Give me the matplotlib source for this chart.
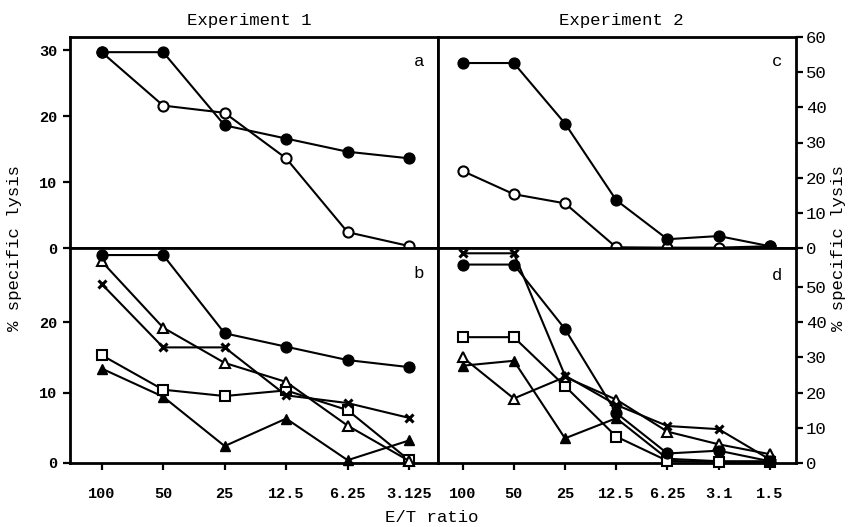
import matplotlib.pyplot as plt
import numpy as np

plt.rcParams['font.family'] = ['Liberation Mono', 'DejaVu Sans Mono']

# E/T ratios
et1 = ['100', '50', '25', '12.5', '6.25', '3.125']
et2 = ['100', '50', '25', '12.5', '6.25', '3.1', '1.5']

# panel a (experiment 1)
a_filled = [29.7, 29.7, 18.6, 16.6, 14.6, 13.6]
a_open = [29.7, 21.6, 20.5, 13.6, 2.4, 0.3]

# panel b (experiment 1)
b_filled_circle = [29.5, 29.5, 18.4, 16.5, 14.6, 13.6]
b_open_tri = [28.6, 19.2, 14.2, 11.5, 5.3, 0.3]
b_cross = [25.4, 16.4, 16.4, 9.6, 8.5, 6.4]
b_open_sq = [15.3, 10.4, 9.5, 10.3, 7.5, 0.4]
b_filled_tri = [13.4, 9.4, 2.4, 6.3, 0.4, 3.2]

# panel c (experiment 2)
c_filled = [52.6, 52.6, 35.4, 13.6, 2.5, 3.4, 0.5]
c_open = [21.9, 15.3, 12.7, 0.2, 0.1, 0.1, 0.5]

# panel d (experiment 2)
d_cross = [59.5, 59.5, 24.8, 16.5, 10.5, 9.6, 1.0]
d_filled_circle = [56.3, 56.3, 38.0, 14.2, 2.7, 3.5, 0.5]
d_open_sq = [35.7, 35.7, 21.8, 7.5, 0.6, 0.3, 0.3]
d_open_tri = [30.0, 18.3, 24.4, 18.0, 8.9, 5.3, 2.5]
d_filled_tri = [27.6, 29.0, 7.0, 12.7, 1.2, 0.5, 0.5]

fig = plt.figure(figsize=(8.51, 5.27), dpi=100)
x0, xm, x1 = 70 / 851, 438 / 851, 796 / 851
yb, ym, yt = 1 - 463 / 527, 1 - 248 / 527, 1 - 37 / 527
ax_a = fig.add_axes([x0, ym, xm - x0, yt - ym])
ax_b = fig.add_axes([x0, yb, xm - x0, ym - yb])
ax_c = fig.add_axes([xm, ym, x1 - xm, yt - ym])
ax_d = fig.add_axes([xm, yb, x1 - xm, ym - yb])

lw = 1.5
ms = 7.8
style = dict(color='black', lw=lw, clip_on=False, zorder=3)
filled_c = dict(marker='o', mfc='black', mec='black', ms=ms)
open_c = dict(marker='o', mfc='white', mec='black', mew=1.5, ms=ms - 0.5)
open_s = dict(marker='s', mfc='white', mec='black', mew=1.5, ms=ms - 0.5)
open_t = dict(marker='^', mfc='white', mec='black', mew=1.5, ms=ms)
filled_t = dict(marker='^', mfc='black', mec='black', ms=ms)
cross = dict(marker='x', mec='black', mew=2.2, ms=ms - 1.8)

xi1 = np.arange(len(et1))
xi2 = np.arange(len(et2))

ax_a.plot(xi1, a_open, **style, **open_c)
ax_a.plot(xi1, a_filled, **style, **filled_c)

ax_b.plot(xi1, b_filled_tri, **style, **filled_t)
ax_b.plot(xi1, b_open_sq, **style, **open_s)
ax_b.plot(xi1, b_cross, **style, **cross)
ax_b.plot(xi1, b_open_tri, **style, **open_t)
ax_b.plot(xi1, b_filled_circle, **style, **filled_c)

ax_c.plot(xi2, c_open, **style, **open_c)
ax_c.plot(xi2, c_filled, **style, **filled_c)

ax_d.plot(xi2, d_filled_tri, **style, **filled_t)
ax_d.plot(xi2, d_open_sq, **style, **open_s)
ax_d.plot(xi2, d_open_tri, **style, **open_t)
ax_d.plot(xi2, d_cross, **style, **cross)
ax_d.plot(xi2, d_filled_circle, **style, **filled_c)

for ax in (ax_a, ax_b):
    ax.set_xlim(-0.515, 5.47)
for ax in (ax_c, ax_d):
    ax.set_xlim(-0.48, 6.51)
ax_a.set_ylim(0, 32)
ax_b.set_ylim(0, 30.5)
ax_c.set_ylim(0, 60)
ax_d.set_ylim(0, 61)

for ax in (ax_a, ax_b, ax_c, ax_d):
    for sp in ax.spines.values():
        sp.set_linewidth(2.0)
    ax.tick_params(direction='out', length=5, width=1.6, pad=4)

tick_font = dict(fontsize=11, fontweight='bold')
ax_a.set_yticks([0, 10, 20, 30])
ax_a.set_yticklabels(['0', '10', '20', '30'], **tick_font)
ax_b.set_yticks([0, 10, 20])
ax_b.set_yticklabels(['0', '10', '20'], **tick_font)
ax_a.set_xticks([])
ax_c.set_xticks([])

ax_b.set_xticks(xi1)
ax_b.set_xticklabels(et1, **tick_font)
ax_d.set_xticks(xi2)
ax_d.set_xticklabels(et2, **tick_font)
ax_b.tick_params(axis='x', pad=12)
ax_d.tick_params(axis='x', pad=12)

for ax, ticks in ((ax_c, [0, 10, 20, 30, 40, 50, 60]), (ax_d, [0, 10, 20, 30, 40, 50])):
    ax.yaxis.tick_right()
    ax.set_yticks(ticks)
    ax.set_yticklabels([str(t) for t in ticks], fontsize=12.5)
    ax.tick_params(axis='y', pad=2)

# panel letters
for ax, letter, y in ((ax_a, 'a', 0.885), (ax_b, 'b', 0.88), (ax_c, 'c', 0.885), (ax_d, 'd', 0.87)):
    ax.text(0.948, y, letter, transform=ax.transAxes, fontsize=12.5,
            ha='center', va='center')

fig.text((x0 + xm) / 2 - 0.005, 1 - 21 / 527, 'Experiment 1', fontsize=12.5,
         ha='center', va='center')
fig.text((xm + x1) / 2 + 0.005, 1 - 21 / 527, 'Experiment 2', fontsize=12.5,
         ha='center', va='center')
fig.text(432 / 851, 1 - 518 / 527, 'E/T ratio', fontsize=12.5,
         ha='center', va='center')
fig.text(15 / 851, ym, '% specific lysis', fontsize=12.5, rotation=90,
         ha='center', va='center')
fig.text(838 / 851, ym, '% specific lysis', fontsize=12.5, rotation=90,
         ha='center', va='center')

fig.savefig('out.png', dpi=100)
